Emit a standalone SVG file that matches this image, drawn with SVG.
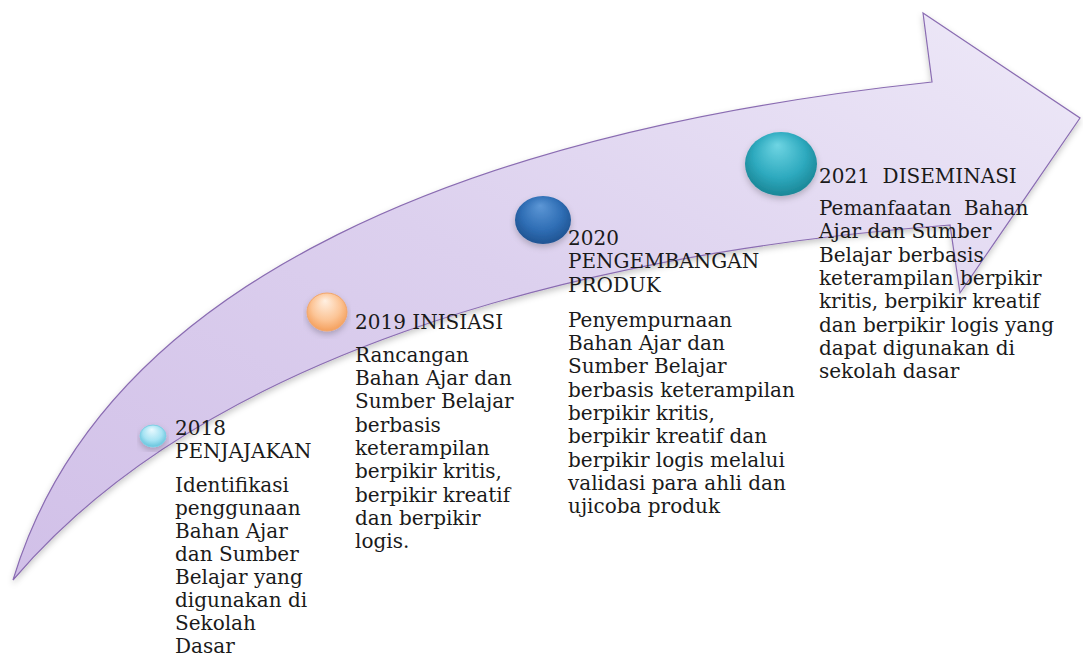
<svg xmlns="http://www.w3.org/2000/svg" width="1083" height="657" viewBox="0 0 1083 657">
  <defs>
    <linearGradient id="arrowFill" x1="0" y1="1" x2="1" y2="0">
      <stop offset="0" stop-color="#d1c0e8"/>
      <stop offset="0.5" stop-color="#dcd0ee"/>
      <stop offset="1" stop-color="#eee9f8"/>
    </linearGradient>
    <filter id="softShadow" x="-10%" y="-10%" width="120%" height="130%">
      <feDropShadow dx="0" dy="3" stdDeviation="3" flood-color="#000" flood-opacity="0.22"/>
    </filter>
    <radialGradient id="gCyan" cx="0.5" cy="0.45" r="0.6" fx="0.45" fy="0.2">
      <stop offset="0" stop-color="#eafaff"/>
      <stop offset="0.6" stop-color="#a6e3f3"/>
      <stop offset="1" stop-color="#5bbfd9"/>
    </radialGradient>
    <radialGradient id="gPeach" cx="0.5" cy="0.45" r="0.6" fx="0.45" fy="0.2">
      <stop offset="0" stop-color="#fff0e2"/>
      <stop offset="0.6" stop-color="#fcc597"/>
      <stop offset="1" stop-color="#f39a54"/>
    </radialGradient>
    <radialGradient id="gBlue" cx="0.5" cy="0.45" r="0.6" fx="0.45" fy="0.2">
      <stop offset="0" stop-color="#5d97d6"/>
      <stop offset="0.6" stop-color="#2f6eb5"/>
      <stop offset="1" stop-color="#1d4f8c"/>
    </radialGradient>
    <radialGradient id="gTeal" cx="0.5" cy="0.45" r="0.6" fx="0.45" fy="0.2">
      <stop offset="0" stop-color="#6fd5e3"/>
      <stop offset="0.6" stop-color="#2eaabf"/>
      <stop offset="1" stop-color="#17808f"/>
    </radialGradient>
    <style>
      .dot { filter: url(#softShadow); }
      .lbl { font-family: "DejaVu Serif", "Liberation Serif", serif; font-size: 20px; fill: #1a1a1a; white-space: pre; }
    </style>
  </defs>

  <rect width="1083" height="657" fill="#fff"/>

  <!-- curved timeline arrow -->
  <g id="connectors">
    <path id="arrow" filter="url(#softShadow)" fill="url(#arrowFill)" stroke="#8a6cb2" stroke-width="1.2"
      d="M13,580 C105,275 480,130 932,82 L923,13 L1080,118 L960,293 L950,225 C560,255 200,360 13,580 Z"/>
  </g>

  <g id="node-2018">
    <ellipse class="dot" cx="153" cy="436" rx="13" ry="11" fill="url(#gCyan)" stroke="#7fcfe4" stroke-width="1"/>
    <text class="lbl">
      <tspan x="175" y="435">2018</tspan>
      <tspan x="175" y="458">PENJAJAKAN</tspan>
      <tspan x="175" y="492">Identifikasi</tspan>
      <tspan x="175" y="515">penggunaan</tspan>
      <tspan x="175" y="538">Bahan Ajar</tspan>
      <tspan x="175" y="561">dan Sumber</tspan>
      <tspan x="175" y="584">Belajar yang</tspan>
      <tspan x="175" y="607">digunakan di</tspan>
      <tspan x="175" y="630">Sekolah</tspan>
      <tspan x="175" y="653">Dasar</tspan>
    </text>
  </g>

  <g id="node-2019">
    <ellipse class="dot" cx="327" cy="312" rx="20" ry="19" fill="url(#gPeach)" stroke="#f2a66a" stroke-width="1"/>
    <text class="lbl">
      <tspan x="355" y="329">2019 INISIASI</tspan>
      <tspan x="355" y="362">Rancangan</tspan>
      <tspan x="355" y="385">Bahan Ajar dan</tspan>
      <tspan x="355" y="408">Sumber Belajar</tspan>
      <tspan x="355" y="432">berbasis</tspan>
      <tspan x="355" y="455">keterampilan</tspan>
      <tspan x="355" y="478">berpikir kritis,</tspan>
      <tspan x="355" y="502">berpikir kreatif</tspan>
      <tspan x="355" y="525">dan berpikir</tspan>
      <tspan x="355" y="548">logis.</tspan>
    </text>
  </g>

  <g id="node-2020">
    <ellipse class="dot" cx="543" cy="220" rx="28" ry="24" fill="url(#gBlue)"/>
    <text class="lbl">
      <tspan x="568" y="245">2020</tspan>
      <tspan x="568" y="268">PENGEMBANGAN</tspan>
      <tspan x="568" y="292">PRODUK</tspan>
      <tspan x="568" y="327">Penyempurnaan</tspan>
      <tspan x="568" y="350">Bahan Ajar dan</tspan>
      <tspan x="568" y="373">Sumber Belajar</tspan>
      <tspan x="568" y="397">berbasis keterampilan</tspan>
      <tspan x="568" y="420">berpikir kritis,</tspan>
      <tspan x="568" y="443">berpikir kreatif dan</tspan>
      <tspan x="568" y="467">berpikir logis melalui</tspan>
      <tspan x="568" y="490">validasi para ahli dan</tspan>
      <tspan x="568" y="513">ujicoba produk</tspan>
    </text>
  </g>

  <g id="node-2021">
    <ellipse class="dot" cx="781" cy="164" rx="36" ry="32" fill="url(#gTeal)"/>
    <text class="lbl">
      <tspan x="819" y="183">2021  DISEMINASI</tspan>
      <tspan x="819" y="215">Pemanfaatan  Bahan</tspan>
      <tspan x="819" y="238">Ajar dan Sumber</tspan>
      <tspan x="819" y="262">Belajar berbasis</tspan>
      <tspan x="819" y="285">keterampilan berpikir</tspan>
      <tspan x="819" y="308">kritis, berpikir kreatif</tspan>
      <tspan x="819" y="332">dan berpikir logis yang</tspan>
      <tspan x="819" y="355">dapat digunakan di</tspan>
      <tspan x="819" y="378">sekolah dasar</tspan>
    </text>
  </g>
</svg>
